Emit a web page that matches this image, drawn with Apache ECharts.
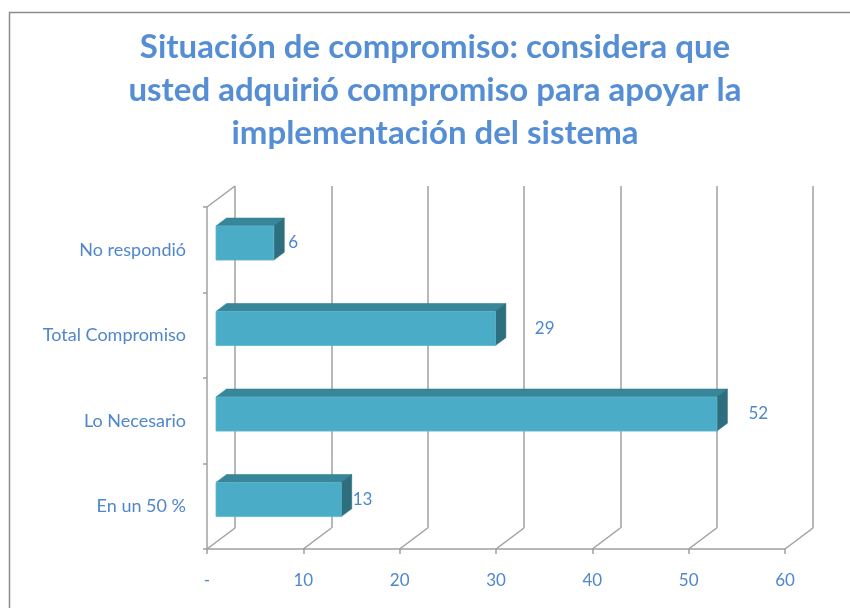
<!DOCTYPE html>
<html>
<head>
    <meta charset="utf-8"/>
    <title>Situación de compromiso</title>
    <script src="https://cdn.jsdelivr.net/npm/echarts@6/dist/echarts.min.js"></script>
    <style>
        html, body { margin: 0; padding: 0; background: #fff; }
        #chart { width: 850px; height: 608px; }
    </style>
</head>
<body>
<div id="chart"></div>
<script>
    // datos (de abajo hacia arriba)
    var categorias = ['En un 50 %', 'Lo Necesario', 'Total Compromiso', 'No respondió'];
    var valores = [13, 52, 29, 6];
    var separacionEtiqueta = [1, 21, 29, 4];
    var marcasX = [0, 10, 20, 30, 40, 50, 60];

    // profundidad 3D
    var PARED_DX = 28, PARED_DY = 21;   // desplazamiento de la pared del fondo
    var CARA_DX = 9, CARA_DY = 6.75;    // cara frontal de la barra
    var PROF_DX = 10.5, PROF_DY = 7.9;  // profundidad de la barra

    var azul = '#4f86cc';
    var gris = '#a0a0a0';
    var fuente = 'Lato, "Open Sans", sans-serif';

    var datosBarras = [];
    for (var i = 0; i < valores.length; i++) {
        datosBarras.push([valores[i], i, separacionEtiqueta[i]]);
    }
    var datosMarcas = [];
    for (var j = 0; j < marcasX.length; j++) {
        datosMarcas.push([marcasX[j], 0]);
    }

    function pintarBarra(params, api) {
        var v = api.value(0), idx = api.value(1), gap = api.value(2);
        var base = api.coord([0, idx]);
        var fin = api.coord([v, idx]);
        var banda = api.size([0, 1])[1];
        var h = banda * 0.4;
        var x0 = base[0] + CARA_DX, x1 = fin[0] + CARA_DX;
        var yc = base[1] - CARA_DY;
        var y0 = yc - h / 2, y1 = yc + h / 2;
        return {
            type: 'group',
            children: [
                {
                    type: 'polygon',
                    shape: {points: [[x0, y0], [x1, y0], [x1 + PROF_DX, y0 - PROF_DY], [x0 + PROF_DX, y0 - PROF_DY]]},
                    style: {fill: '#37869a', stroke: '#2f7587', lineWidth: 0.5}
                },
                {
                    type: 'polygon',
                    shape: {points: [[x1, y0], [x1 + PROF_DX, y0 - PROF_DY], [x1 + PROF_DX, y1 - PROF_DY], [x1, y1]]},
                    style: {fill: '#2e6f7f', stroke: '#2a6573', lineWidth: 0.5}
                },
                {
                    type: 'rect',
                    shape: {x: x0, y: y0, width: x1 - x0, height: h},
                    style: {fill: '#4aacc6', stroke: '#5fb6cc', lineWidth: 0.8}
                },
                {
                    type: 'text',
                    x: x1 + PROF_DX + gap,
                    y: yc,
                    style: {
                        text: String(v), fill: azul, font: '17px ' + fuente,
                        textAlign: 'left', textVerticalAlign: 'middle'
                    }
                }
            ]
        };
    }

    function pintarPiso(params, api) {
        var t = api.value(0);
        var cs = params.coordSys;
        var x = api.coord([t, 0])[0];
        var abajo = cs.y + cs.height;
        var hijos = [{
            type: 'line',
            shape: {x1: x, y1: abajo, x2: x + PARED_DX, y2: abajo - PARED_DY},
            style: {stroke: gris, lineWidth: 1.5}
        }];
        if (t === 0) {
            hijos.push({
                type: 'line',
                shape: {x1: x, y1: cs.y, x2: x + PARED_DX, y2: cs.y - PARED_DY},
                style: {stroke: gris, lineWidth: 1.5}
            });
        }
        return {type: 'group', children: hijos};
    }

    var myChart = echarts.init(document.getElementById('chart'));
    var option = {
        backgroundColor: '#fff',
        animation: false,
        title: {
            text: 'Situación de compromiso: considera que\nusted adquirió compromiso para apoyar la\nimplementación del sistema',
            left: 435,
            textAlign: 'center',
            top: 26,
            padding: 0,
            textStyle: {
                color: '#558ed5',
                fontFamily: fuente,
                fontWeight: 'bold',
                fontSize: 33,
                lineHeight: 43
            }
        },
        graphic: [{
            type: 'rect',
            shape: {x: 9.5, y: 12.5, width: 900, height: 700},
            style: {fill: 'none', stroke: '#8c8c8c', lineWidth: 1.5},
            silent: true
        }],
        grid: [
            {left: 207, top: 207, width: 578, height: 342},
            {left: 207 + PARED_DX, top: 207 - PARED_DY, width: 578, height: 342}
        ],
        xAxis: [
            {
                type: 'value', gridIndex: 0, min: 0, max: 60, interval: 10,
                axisLine: {show: true, lineStyle: {color: gris, width: 1.5}},
                axisTick: {show: true, length: 5, lineStyle: {color: gris, width: 1.5}},
                splitLine: {show: false},
                axisLabel: {
                    margin: 23, color: azul, fontFamily: fuente, fontSize: 17,
                    formatter: function (v) { return v === 0 ? '-' : String(v); }
                }
            },
            {
                type: 'value', gridIndex: 1, min: 0, max: 60, interval: 10,
                axisLine: {show: false}, axisTick: {show: false}, axisLabel: {show: false},
                splitLine: {show: true, lineStyle: {color: gris, width: 1.5}}
            }
        ],
        yAxis: [
            {
                type: 'category', gridIndex: 0, data: categorias,
                axisLine: {show: true, lineStyle: {color: gris, width: 1.5}},
                axisTick: {show: true, length: 4, lineStyle: {color: gris, width: 1.5}},
                axisLabel: {margin: 21, color: azul, fontFamily: fuente, fontSize: 18}
            },
            {
                type: 'category', gridIndex: 1, data: categorias,
                axisLine: {show: false}, axisTick: {show: false}, axisLabel: {show: false}
            }
        ],
        series: [
            {
                type: 'custom', xAxisIndex: 0, yAxisIndex: 0,
                renderItem: pintarPiso, data: datosMarcas, silent: true, z: 1
            },
            {
                type: 'custom', xAxisIndex: 0, yAxisIndex: 0,
                renderItem: pintarBarra, data: datosBarras,
                encode: {x: 0, y: 1}, clip: false, z: 3
            }
        ]
    };
    myChart.setOption(option);

    window.onresize = function () {
        myChart.resize();
    };
</script>
</body>
</html>
